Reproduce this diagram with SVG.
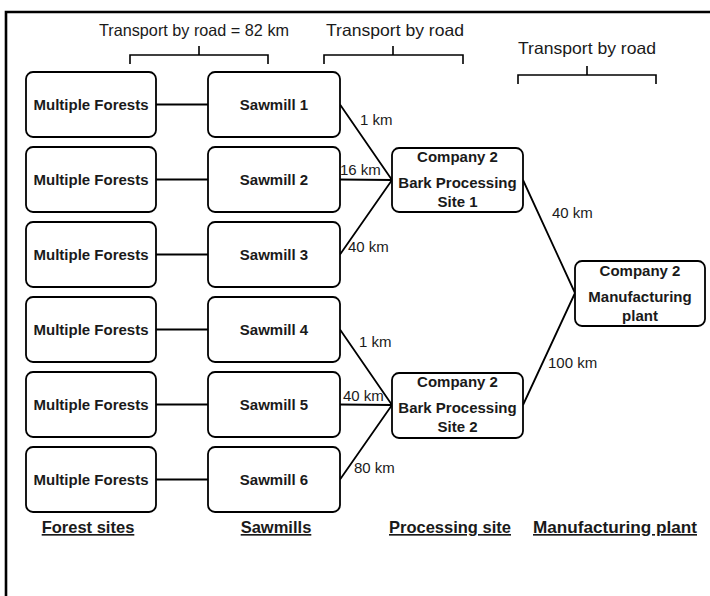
<svg xmlns="http://www.w3.org/2000/svg" width="710" height="596" viewBox="0 0 710 596">
  <style>
    .box { fill: #ffffff; stroke: #000000; stroke-width: 1.8; }
    .edge { stroke: #000000; stroke-width: 1.8; fill: none; }
    .brace { stroke: #000000; stroke-width: 1.6; fill: none; }
    .frame { stroke: #000000; stroke-width: 2.6; fill: none; }
    .node { font-family: "Liberation Sans", Arial, sans-serif; font-size: 15px; font-weight: bold; fill: #1a1a1a; text-anchor: middle; }
    .dist { font-family: "Liberation Sans", Arial, sans-serif; font-size: 15px; fill: #1a1a1a; }
    .head { font-family: "Liberation Sans", Arial, sans-serif; font-size: 16.5px; fill: #1a1a1a; }
    .col { font-family: "Liberation Sans", Arial, sans-serif; font-size: 16.5px; font-weight: bold; fill: #1a1a1a; text-anchor: middle; text-decoration: underline; }
  </style>

  <rect width="710" height="596" fill="#ffffff"/>

  <!-- outer frame: only top and left edges -->
  <path class="frame" d="M6,596 V12 H710"/>

  <!-- transport headings with braces -->
  <g id="headings">
    <text class="head" x="99" y="36" textLength="190" lengthAdjust="spacingAndGlyphs">Transport by road = 82 km</text>
    <path class="brace" d="M130,64 V55 H268 V64 M199,55 V46"/>
    <text class="head" x="326" y="36" textLength="138" lengthAdjust="spacingAndGlyphs">Transport by road</text>
    <path class="brace" d="M324,64 V55 H463 V64 M393,55 V46"/>
    <text class="head" x="518" y="54" textLength="138" lengthAdjust="spacingAndGlyphs">Transport by road</text>
    <path class="brace" d="M518,84 V75 H656 V84 M587,75 V66"/>
  </g>

  <!-- connectors -->
  <g id="connectors">
    <path class="edge" d="M156,104.5 H208"/>
    <path class="edge" d="M156,179.5 H208"/>
    <path class="edge" d="M156,254.5 H208"/>
    <path class="edge" d="M156,329.5 H208"/>
    <path class="edge" d="M156,404.5 H208"/>
    <path class="edge" d="M156,479.5 H208"/>
    <path class="edge" d="M340,104.5 L392,180 M340,179.5 L392,180 M340,254.5 L392,180"/>
    <path class="edge" d="M340,329.5 L392,405 M340,404.5 L392,405 M340,479.5 L392,405"/>
    <path class="edge" d="M523,180 L575,293 M523,405 L575,293"/>
    <text class="dist" x="360" y="125">1 km</text>
    <text class="dist" x="340" y="175">16 km</text>
    <text class="dist" x="348" y="252">40 km</text>
    <text class="dist" x="359" y="347">1 km</text>
    <text class="dist" x="343" y="401">40 km</text>
    <text class="dist" x="354" y="473">80 km</text>
    <text class="dist" x="552" y="218">40 km</text>
    <text class="dist" x="548" y="368">100 km</text>
  </g>

  <!-- forest sites -->
  <g id="forest1"><rect class="box" x="26" y="72" width="130" height="65" rx="7"/><text class="node" x="91" y="110">Multiple Forests</text></g>
  <g id="forest2"><rect class="box" x="26" y="147" width="130" height="65" rx="7"/><text class="node" x="91" y="185">Multiple Forests</text></g>
  <g id="forest3"><rect class="box" x="26" y="222" width="130" height="65" rx="7"/><text class="node" x="91" y="260">Multiple Forests</text></g>
  <g id="forest4"><rect class="box" x="26" y="297" width="130" height="65" rx="7"/><text class="node" x="91" y="335">Multiple Forests</text></g>
  <g id="forest5"><rect class="box" x="26" y="372" width="130" height="65" rx="7"/><text class="node" x="91" y="410">Multiple Forests</text></g>
  <g id="forest6"><rect class="box" x="26" y="447" width="130" height="65" rx="7"/><text class="node" x="91" y="485">Multiple Forests</text></g>

  <!-- sawmills -->
  <g id="sawmill1"><rect class="box" x="208" y="72" width="132" height="65" rx="7"/><text class="node" x="274" y="110">Sawmill 1</text></g>
  <g id="sawmill2"><rect class="box" x="208" y="147" width="132" height="65" rx="7"/><text class="node" x="274" y="185">Sawmill 2</text></g>
  <g id="sawmill3"><rect class="box" x="208" y="222" width="132" height="65" rx="7"/><text class="node" x="274" y="260">Sawmill 3</text></g>
  <g id="sawmill4"><rect class="box" x="208" y="297" width="132" height="65" rx="7"/><text class="node" x="274" y="335">Sawmill 4</text></g>
  <g id="sawmill5"><rect class="box" x="208" y="372" width="132" height="65" rx="7"/><text class="node" x="274" y="410">Sawmill 5</text></g>
  <g id="sawmill6"><rect class="box" x="208" y="447" width="132" height="65" rx="7"/><text class="node" x="274" y="485">Sawmill 6</text></g>

  <!-- processing sites -->
  <g id="processing1">
    <rect class="box" x="392" y="148" width="131" height="64" rx="7"/>
    <text class="node" x="457.5" y="162">Company 2</text>
    <text class="node" x="457.5" y="188">Bark Processing</text>
    <text class="node" x="457.5" y="207">Site 1</text>
  </g>
  <g id="processing2">
    <rect class="box" x="392" y="373" width="131" height="65" rx="7"/>
    <text class="node" x="457.5" y="387">Company 2</text>
    <text class="node" x="457.5" y="413">Bark Processing</text>
    <text class="node" x="457.5" y="432">Site 2</text>
  </g>

  <!-- manufacturing plant -->
  <g id="plant">
    <rect class="box" x="575" y="261" width="130" height="65" rx="7"/>
    <text class="node" x="640" y="276">Company 2</text>
    <text class="node" x="640" y="302">Manufacturing</text>
    <text class="node" x="640" y="321">plant</text>
  </g>

  <!-- column labels -->
  <g id="columns">
    <text class="col" x="88" y="533">Forest sites</text>
    <text class="col" x="276" y="533">Sawmills</text>
    <text class="col" x="450" y="533">Processing site</text>
    <text class="col" x="615" y="533" textLength="164" lengthAdjust="spacingAndGlyphs">Manufacturing plant</text>
  </g>
</svg>
